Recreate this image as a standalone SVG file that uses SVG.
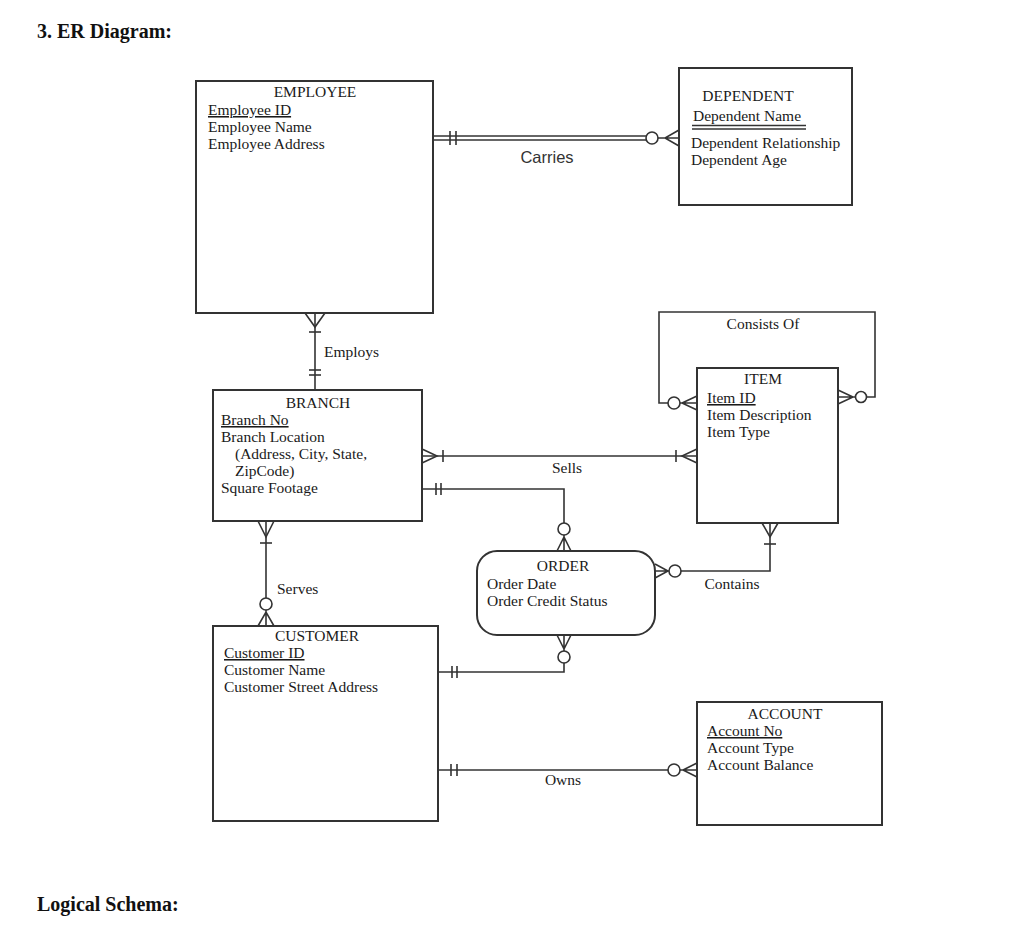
<svg xmlns="http://www.w3.org/2000/svg" width="1024" height="949" viewBox="0 0 1024 949">
<style>
.bg{fill:#fff}
.box{fill:#fff;stroke:#333;stroke-width:2}
.ln{fill:none;stroke:#333;stroke-width:1.6}
.cir{fill:#fff;stroke:#333;stroke-width:1.6}
.t{font-family:"Liberation Serif","Times New Roman",serif;font-size:15.5px;fill:#1a1a1a}
.c{text-anchor:middle}
.u{text-decoration:underline}
.h{font-family:"Liberation Serif","Times New Roman",serif;font-size:20px;font-weight:bold;fill:#111}
.s{font-family:"Liberation Sans",Arial,sans-serif;font-size:16.5px;fill:#333}
</style>
<rect class="bg" x="0" y="0" width="1024" height="949"/>
<text class="h" x="37" y="38">3. ER Diagram:</text>
<text class="h" x="37" y="911">Logical Schema:</text>

<g id="connectors">
  <g id="carries">
    <line class="ln" x1="434" y1="136" x2="647" y2="136"/>
    <line class="ln" x1="434" y1="140" x2="647" y2="140"/>
    <line class="ln" x1="450" y1="131" x2="450" y2="145"/>
    <line class="ln" x1="456" y1="131" x2="456" y2="145"/>
    <circle class="cir" cx="652" cy="138" r="6"/>
    <path class="ln" d="M658,138 H679 M679,130 L665,138 L679,146"/>
    <text class="s c" x="547" y="163">Carries</text>
  </g>
  <g id="employs">
    <line class="ln" x1="315" y1="313" x2="315" y2="390"/>
    <path class="ln" d="M305,313 L315,327 L325,313"/>
    <line class="ln" x1="309" y1="332" x2="321" y2="332"/>
    <line class="ln" x1="309" y1="370" x2="321" y2="370"/>
    <line class="ln" x1="309" y1="375" x2="321" y2="375"/>
    <text class="t" x="324" y="357">Employs</text>
  </g>
  <g id="sells">
    <line class="ln" x1="422" y1="456" x2="697" y2="456"/>
    <path class="ln" d="M422,449 L437,456 L422,463"/>
    <line class="ln" x1="443" y1="450" x2="443" y2="462"/>
    <line class="ln" x1="676" y1="450" x2="676" y2="462"/>
    <path class="ln" d="M697,449 L682,456 L697,463"/>
    <text class="t c" x="567" y="473">Sells</text>
  </g>
  <g id="branch-order">
    <path class="ln" d="M422,489 H564 V523"/>
    <line class="ln" x1="436" y1="483" x2="436" y2="495"/>
    <line class="ln" x1="441" y1="483" x2="441" y2="495"/>
    <circle class="cir" cx="564" cy="529" r="6"/>
    <path class="ln" d="M564,535 V551 M557,551 L564,537 L571,551"/>
  </g>
  <g id="order-customer">
    <path class="ln" d="M564,635 V651 M557,635 L564,649 L571,635"/>
    <circle class="cir" cx="564" cy="657" r="6"/>
    <path class="ln" d="M564,663 V672 H438"/>
    <line class="ln" x1="452" y1="666" x2="452" y2="678"/>
    <line class="ln" x1="457" y1="666" x2="457" y2="678"/>
  </g>
  <g id="contains">
    <path class="ln" d="M655,571 H669 M655,564 L668,571 L655,578"/>
    <circle class="cir" cx="675" cy="571" r="6"/>
    <path class="ln" d="M681,571 H770 V523"/>
    <path class="ln" d="M762,523 L770,537 L778,523"/>
    <line class="ln" x1="764" y1="544" x2="776" y2="544"/>
    <text class="t c" x="732" y="589">Contains</text>
  </g>
  <g id="serves">
    <line class="ln" x1="266" y1="521" x2="266" y2="598"/>
    <path class="ln" d="M258,521 L266,537 L274,521"/>
    <line class="ln" x1="260" y1="543" x2="272" y2="543"/>
    <circle class="cir" cx="266" cy="604" r="6"/>
    <path class="ln" d="M266,610 V626 M258,626 L266,612 L274,626"/>
    <text class="t" x="277" y="594">Serves</text>
  </g>
  <g id="owns">
    <line class="ln" x1="438" y1="770" x2="668" y2="770"/>
    <line class="ln" x1="451" y1="764" x2="451" y2="776"/>
    <line class="ln" x1="457" y1="764" x2="457" y2="776"/>
    <circle class="cir" cx="674" cy="770" r="6"/>
    <path class="ln" d="M680,770 H697 M697,763 L683,770 L697,777"/>
    <text class="t c" x="563" y="785">Owns</text>
  </g>
  <g id="consists-of">
    <path class="ln" d="M668,403 H659 V312 H875 V397 H867"/>
    <circle class="cir" cx="674" cy="403" r="6"/>
    <path class="ln" d="M680,403 H697 M697,396 L682,403 L697,410"/>
    <circle class="cir" cx="861" cy="397" r="5.5"/>
    <path class="ln" d="M838,397 H855 M838,390 L853,397 L838,404"/>
    <text class="t c" x="763" y="329">Consists Of</text>
  </g>
</g>

<g id="employee">
  <rect class="box" x="196" y="81" width="237" height="232"/>
  <text class="t c" x="315" y="97">EMPLOYEE</text>
  <text class="t u" x="208" y="115">Employee ID</text>
  <text class="t" x="208" y="132">Employee Name</text>
  <text class="t" x="208" y="149">Employee Address</text>
</g>

<g id="dependent">
  <rect class="box" x="679" y="68" width="173" height="137"/>
  <text class="t c" x="748" y="101">DEPENDENT</text>
  <text class="t" x="693" y="121">Dependent Name</text>
  <line class="ln" x1="692" y1="125.5" x2="806" y2="125.5" style="stroke-width:1.3"/>
  <line class="ln" x1="692" y1="129" x2="806" y2="129" style="stroke-width:1.3"/>
  <text class="t" x="691" y="148">Dependent Relationship</text>
  <text class="t" x="691" y="165">Dependent Age</text>
</g>

<g id="branch">
  <rect class="box" x="213" y="390" width="209" height="131"/>
  <text class="t c" x="318" y="408">BRANCH</text>
  <text class="t u" x="221" y="425">Branch No</text>
  <text class="t" x="221" y="442">Branch Location</text>
  <text class="t" x="235" y="459">(Address, City, State,</text>
  <text class="t" x="235" y="476">ZipCode)</text>
  <text class="t" x="221" y="493">Square Footage</text>
</g>

<g id="item">
  <rect class="box" x="697" y="368" width="141" height="155"/>
  <text class="t c" x="763" y="384">ITEM</text>
  <text class="t u" x="707" y="403">Item ID</text>
  <text class="t" x="707" y="420">Item Description</text>
  <text class="t" x="707" y="437">Item Type</text>
</g>

<g id="order">
  <rect class="box" x="477" y="551" width="178" height="84" rx="20" ry="20"/>
  <text class="t c" x="563" y="571">ORDER</text>
  <text class="t" x="487" y="589">Order Date</text>
  <text class="t" x="487" y="606">Order Credit Status</text>
</g>

<g id="customer">
  <rect class="box" x="213" y="626" width="225" height="195"/>
  <text class="t c" x="317" y="641">CUSTOMER</text>
  <text class="t u" x="224" y="658">Customer ID</text>
  <text class="t" x="224" y="675">Customer Name</text>
  <text class="t" x="224" y="692">Customer Street Address</text>
</g>

<g id="account">
  <rect class="box" x="697" y="702" width="185" height="123"/>
  <text class="t c" x="785" y="719">ACCOUNT</text>
  <text class="t u" x="707" y="736">Account No</text>
  <text class="t" x="707" y="753">Account Type</text>
  <text class="t" x="707" y="770">Account Balance</text>
</g>
</svg>
